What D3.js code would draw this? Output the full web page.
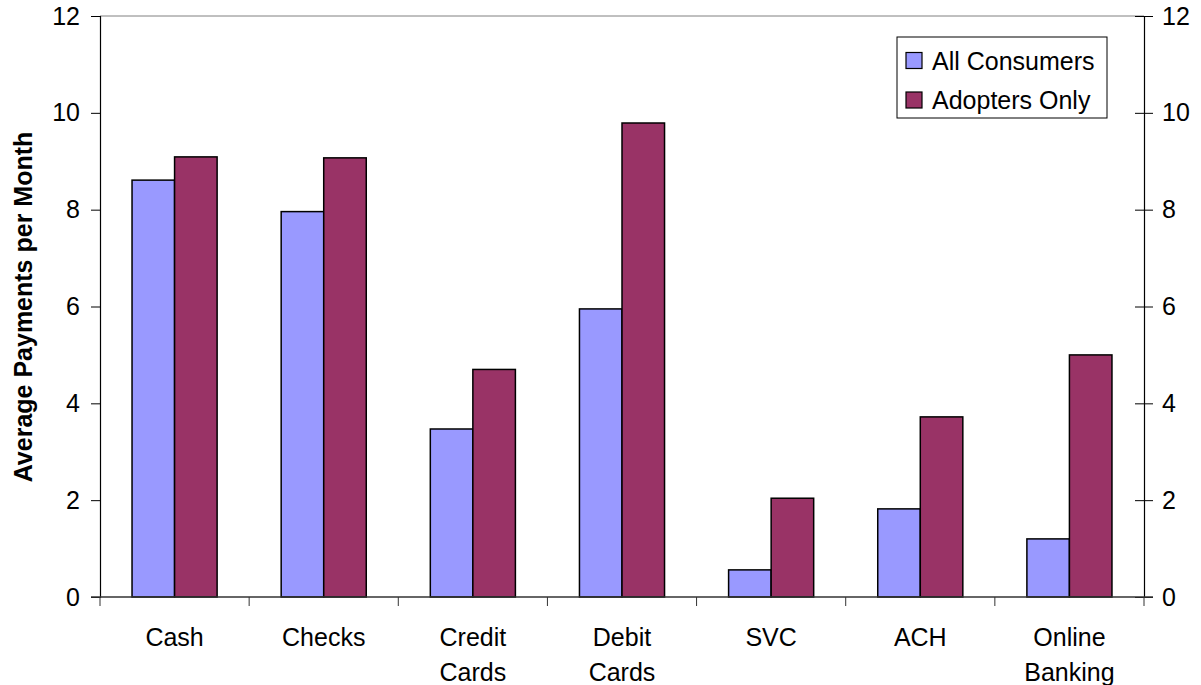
<!DOCTYPE html>
<html><head><meta charset="utf-8">
<script src="https://cdn.jsdelivr.net/npm/d3@7"></script>
<style>body{margin:0;background:#fff}svg{display:block}text{font-family:"Liberation Sans",Arial,sans-serif}</style>
</head><body>
<svg id="c" width="1201" height="685"></svg>
<script>
const categories = [["Cash"],["Checks"],["Credit","Cards"],["Debit","Cards"],["SVC"],["ACH"],["Online","Banking"]];
const allConsumers = [8.61, 7.96, 3.47, 5.95, 0.56, 1.82, 1.20];
const adoptersOnly = [9.09, 9.07, 4.70, 9.79, 2.04, 3.72, 5.00];
const seriesNames = ["All Consumers","Adopters Only"];
const yTicks = [0,2,4,6,8,10,12];
const colors = ["#9999FF","#993366"];

const svg = d3.select("#c");
const L=100, R=1144, T=16, B=597;
const FS=25;
const x = d3.scaleBand().domain(d3.range(categories.length)).range([L,R]).paddingInner(0).paddingOuter(0);
const y = d3.scaleLinear().domain([0,12]).range([B,T]);
const inner = d3.scaleBand().domain([0,1]).range([0,x.bandwidth()]).paddingOuter(0.753).paddingInner(0);

svg.append("line").attr("x1",L).attr("x2",R).attr("y1",T).attr("y2",T).attr("stroke","#808080").attr("stroke-width",1);

const series=[allConsumers, adoptersOnly];
series.forEach((vals,si)=>{
  svg.append("g").selectAll("rect").data(vals).join("rect")
    .attr("x",(d,i)=>x(i)+inner(si))
    .attr("y",d=>y(d))
    .attr("width",inner.bandwidth())
    .attr("height",d=>B-y(d))
    .attr("fill",colors[si]).attr("stroke","#000").attr("stroke-width",1.5);
});

const la = svg.append("g").attr("transform",`translate(${L},0)`).call(d3.axisLeft(y).tickValues(yTicks).tickSize(9).tickPadding(11));
const ra = svg.append("g").attr("transform",`translate(${R},0)`).call(d3.axisRight(y).tickValues(yTicks).tickSize(9).tickPadding(9));
[la,ra].forEach(a=>{
  a.attr("font-size",FS).attr("font-family","Liberation Sans, Arial");
  a.select(".domain").attr("stroke","#000").attr("stroke-width",1.2);
  a.selectAll(".tick line").attr("stroke","#000");
  a.selectAll("text").attr("font-size",FS).attr("fill","#000");
});
ra.selectAll(".tick line").attr("x1",-9);

const xa = svg.append("g").attr("transform",`translate(0,${B})`);
xa.append("line").attr("x1",L-9).attr("x2",R+9).attr("y1",0).attr("y2",0).attr("stroke","#333").attr("stroke-width",1.5);
const bounds = d3.range(categories.length+1).map(i=>L+i*x.bandwidth());
xa.selectAll(".bt").data(bounds).join("line").attr("class","bt")
  .attr("x1",d=>d).attr("x2",d=>d).attr("y1",0).attr("y2",9).attr("stroke","#333").attr("stroke-width",1);
xa.selectAll(".cl").data(categories).join("text").attr("class","cl")
  .attr("x",(d,i)=>x(i)+x.bandwidth()/2).attr("y",49)
  .attr("text-anchor","middle").attr("font-size",FS).attr("fill","#000")
  .each(function(d){ const t=d3.select(this); d.forEach((s,k)=>t.append("tspan").attr("x",t.attr("x")).attr("dy",k?35:0).text(s)); });

svg.append("text").attr("transform","translate(32,307) rotate(-90)").attr("text-anchor","middle")
  .attr("font-size",FS).attr("font-weight","bold").text("Average Payments per Month");

const lg = svg.append("g");
lg.append("rect").attr("x",897).attr("y",37).attr("width",210).attr("height",81).attr("fill","#fff").attr("stroke","#000").attr("stroke-width",1);
seriesNames.forEach((n,i)=>{
  const cy = 60.5 + i*39.5;
  lg.append("rect").attr("x",906).attr("y",cy-8).attr("width",16).attr("height",16).attr("fill",colors[i]).attr("stroke","#000").attr("stroke-width",1.2);
  lg.append("text").attr("x",932).attr("y",cy+9).attr("font-size",FS).text(n);
});
</script>
</body></html>
